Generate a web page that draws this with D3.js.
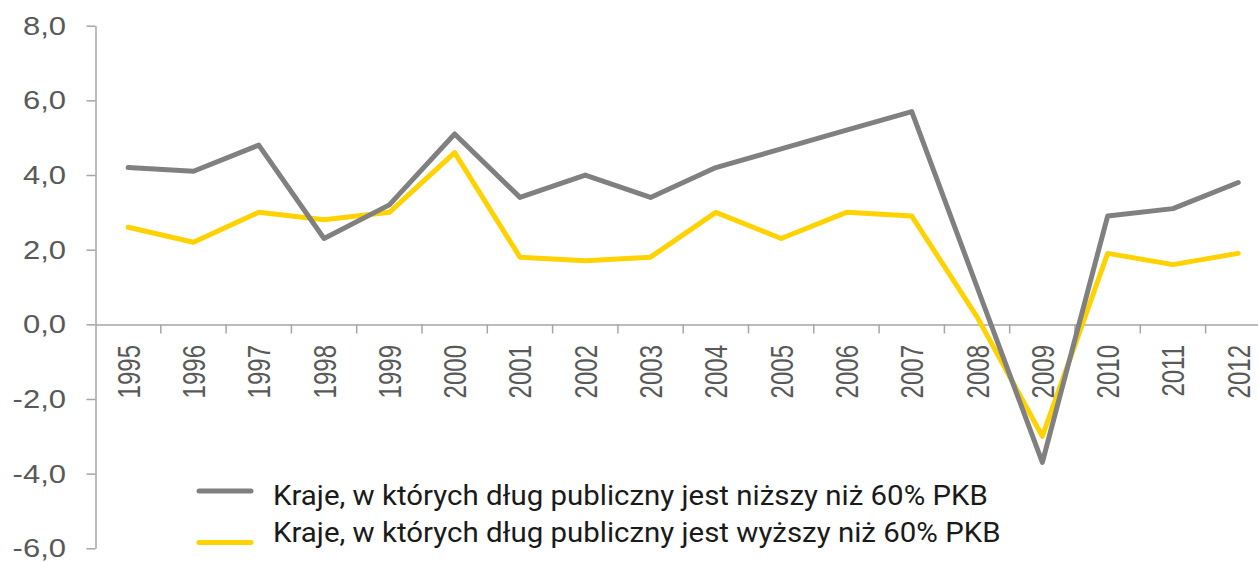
<!DOCTYPE html>
<html>
<head>
<meta charset="utf-8">
<script src="https://cdnjs.cloudflare.com/ajax/libs/d3/7.8.5/d3.min.js"></script>
<style>
  body { margin: 0; background: #fff; }
  svg { display: block; }
</style>
</head>
<body>
<svg id="chart" width="1258" height="562"></svg>
<script>
(function(){
    let years = ["1995","1996","1997","1998","1999","2000","2001","2002","2003",
                 "2004","2005","2006","2007","2008","2009","2010","2011","2012"]
    let lowDebt  = [4.2, 4.1, 4.8, 2.3, 3.2, 5.1, 3.4, 4.0, 3.4, 4.2, 4.7, 5.2, 5.7, 1.0, -3.7, 2.9, 3.1, 3.8]
    let highDebt = [2.6, 2.2, 3.0, 2.8, 3.0, 4.6, 1.8, 1.7, 1.8, 3.0, 2.3, 3.0, 2.9, 0.2, -3.0, 1.9, 1.6, 1.9]
    let yTicks = [-6, -4, -2, 0, 2, 4, 6, 8]
    let seriesNames = [
        "Kraje, w których dług publiczny jest niższy niż 60% PKB",
        "Kraje, w których dług publiczny jest wyższy niż 60% PKB"
    ]

    let svg = d3.select("svg#chart")
    let axisColor = "#a6a6a6"
    let labelColor = "#595959"

    let left = 95.5, bandW = 65.3
    let xScale = d3.scaleBand()
        .domain(years)
        .range([left, left + bandW * years.length])

    let yScale = d3.scaleLinear()
        .domain([-6, 8])
        .range([548.3, 25.7])

    // y axis
    let yAxis = svg.append("g")
        .attr("transform", "translate(" + left + ",0)")
        .call(d3.axisLeft(yScale).tickValues(yTicks).tickSize(9).tickSizeOuter(0).tickFormat(""))
    yAxis.select(".domain").attr("stroke", axisColor).attr("stroke-width", 1.5)
    yAxis.selectAll(".tick line").attr("stroke", axisColor).attr("stroke-width", 1.5)

    svg.append("g").selectAll("text")
        .data(yTicks)
        .enter()
        .append("text")
            .attr("transform", (d) => "translate(66," + (yScale(d) + 9) + ") scale(1.24,1)")
            .attr("text-anchor", "end")
            .attr("font-family", "Liberation Sans, Arial, sans-serif")
            .attr("font-size", "25px")
            .attr("fill", labelColor)
            .text((d) => d3.format(".1f")(d).replace(".", ",").replace("−", "-"))

    // zero line with category ticks
    let y0 = Math.round(yScale(0)) + 0.5
    let xAxis = svg.append("g")
        .attr("transform", "translate(0," + y0 + ")")
        .call(d3.axisBottom(xScale).tickSize(0).tickSizeOuter(0).tickFormat(""))
    xAxis.select(".domain").attr("stroke", axisColor).attr("stroke-width", 1.5)

    svg.append("g").selectAll("line")
        .data(years.slice(1))
        .enter()
        .append("line")
            .attr("x1", (d) => xScale(d))
            .attr("x2", (d) => xScale(d))
            .attr("y1", y0)
            .attr("y2", y0 + 9)
            .attr("stroke", axisColor)
            .attr("stroke-width", 1.5)

    svg.append("g").selectAll("text")
        .data(years)
        .enter()
        .append("text")
            .attr("transform", (d) => "translate(" + (xScale(d) + xScale.bandwidth() / 2 + 11.5) + ",345) scale(1.3,1) rotate(-90)")
            .attr("text-anchor", "end")
            .attr("font-family", "Liberation Sans, Arial, sans-serif")
            .attr("font-size", "24px")
            .attr("fill", labelColor)
            .text((d) => d)

    // lines
    let line = d3.line()
        .x((d, i) => xScale(years[i]) + xScale.bandwidth() / 2)
        .y((d) => yScale(d))

    svg.append("path")
        .datum(highDebt)
        .attr("d", line)
        .attr("fill", "none")
        .attr("stroke", "#ffd200")
        .attr("stroke-width", 5)
        .attr("stroke-linejoin", "round")
        .attr("stroke-linecap", "round")

    svg.append("path")
        .datum(lowDebt)
        .attr("d", line)
        .attr("fill", "none")
        .attr("stroke", "#808080")
        .attr("stroke-width", 5)
        .attr("stroke-linejoin", "round")
        .attr("stroke-linecap", "round")

    // legend
    let legend = [
        {name: seriesNames[0], color: "#808080", ly: 491, ty: 505},
        {name: seriesNames[1], color: "#ffd200", ly: 542.5, ty: 541.5}
    ]
    let lg = svg.append("g")
    lg.selectAll("line")
        .data(legend)
        .enter()
        .append("line")
            .attr("x1", 199)
            .attr("x2", 251)
            .attr("y1", (d) => d.ly)
            .attr("y2", (d) => d.ly)
            .attr("stroke", (d) => d.color)
            .attr("stroke-width", 5)
            .attr("stroke-linecap", "round")
    lg.selectAll("text")
        .data(legend)
        .enter()
        .append("text")
            .attr("transform", (d) => "translate(273," + d.ty + ") scale(1.09,1)")
            .attr("font-family", "Roboto, sans-serif")
            .attr("font-size", "27px")
            .attr("fill", "#1a1a1a")
            .text((d) => d.name)
})()
</script>
</body>
</html>
